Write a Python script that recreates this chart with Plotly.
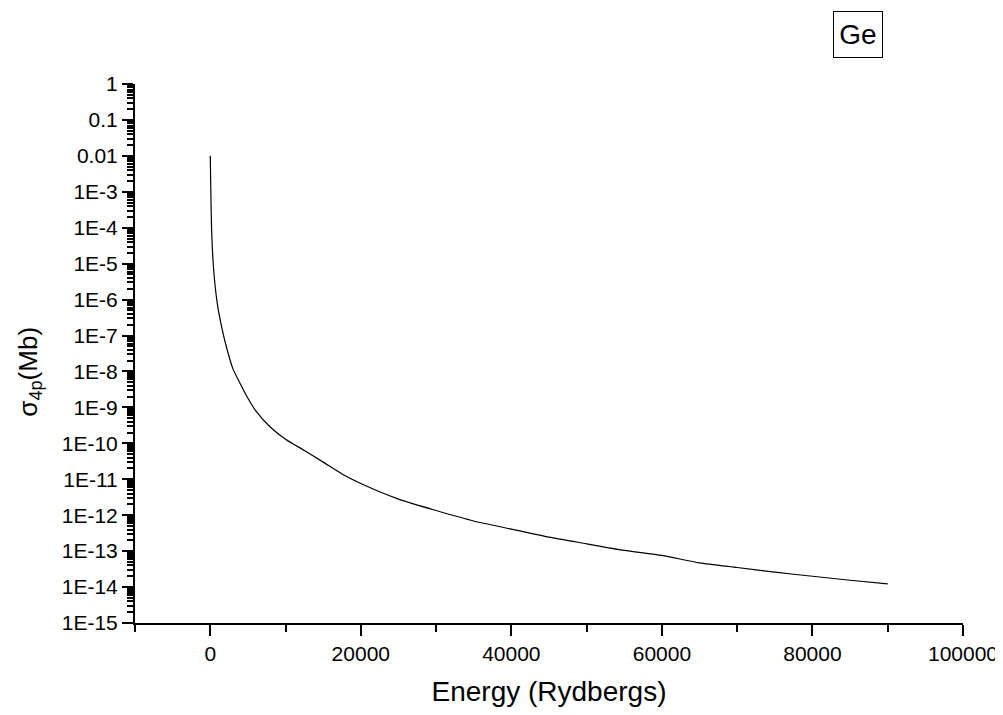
import plotly.graph_objects as go

# Data (Energy in Rydbergs, sigma_4p in Mb)
energy = [0, 200, 500, 1000, 1500, 2000, 3000, 4000, 5000, 6000, 8000, 10000,
          12500, 15000, 17500, 20000, 25000, 30000, 35000, 40000, 45000, 50000,
          55000, 60000, 65000, 70000, 75000, 80000, 85000, 90000]
sigma_4p = [1.0e-2, 6.3e-5, 5.0e-6, 6.3e-7, 1.8e-7, 6.3e-8, 1.2e-8, 4.5e-9,
            1.8e-9, 8.3e-10, 2.8e-10, 1.3e-10, 6.3e-11, 3.0e-11, 1.4e-11,
            7.6e-12, 2.8e-12, 1.35e-12, 6.9e-13, 4.1e-13, 2.45e-13, 1.6e-13,
            1.05e-13, 7.6e-14, 4.7e-14, 3.5e-14, 2.6e-14, 2.0e-14, 1.55e-14,
            1.23e-14]

x_tickvals = [0, 20000, 40000, 60000, 80000, 100000]
x_ticktext = ["0", "20000", "40000", "60000", "80000", "100000"]
x_minor = [-10000, 10000, 30000, 50000, 70000, 90000]

y_exponents = list(range(0, -16, -1))
y_ticktext = ["1", "0.1", "0.01"] + ["1E%d" % e for e in range(-3, -16, -1)]
y_tickvals = [10.0 ** e for e in y_exponents]
y_minor = [k * 10.0 ** e for e in range(-15, 0) for k in range(2, 10)]

FONT = "Liberation Sans, Arial, sans-serif"

fig = go.Figure()
fig.add_trace(go.Scatter(x=energy, y=sigma_4p, mode="lines",
                         line=dict(color="black", width=1.2, shape="spline",
                                   smoothing=0.6),
                         showlegend=False))

fig.update_layout(
    width=995, height=699,
    margin=dict(l=127, r=40, t=76, b=84, autoexpand=False),
    paper_bgcolor="white", plot_bgcolor="white",
    font=dict(family=FONT, color="black", size=21),
    xaxis=dict(
        range=[-10000, 100000], showline=True, linecolor="black", linewidth=2,
        showgrid=False, zeroline=False, ticks="outside", ticklen=11,
        tickwidth=2, tickcolor="black", tickmode="array", automargin=False,
        tickvals=x_tickvals, ticktext=x_ticktext,
        tickfont=dict(size=21, family=FONT),
        minor=dict(tickmode="array", tickvals=x_minor, ticks="outside",
                   ticklen=7, tickwidth=2, tickcolor="black", showgrid=False),
        title=dict(text="Energy (Rydbergs)", font=dict(size=28, family=FONT),
                   standoff=20),
    ),
    yaxis=dict(
        type="log", range=[-15, 0], showline=True, linecolor="black",
        linewidth=2, showgrid=False, zeroline=False, ticks="outside",
        ticklen=11, tickwidth=2, tickcolor="black", tickmode="array",
        automargin=False,
        tickvals=y_tickvals, ticktext=y_ticktext,
        tickfont=dict(size=21, family=FONT),
        minor=dict(tickmode="array", tickvals=y_minor, ticks="outside",
                   ticklen=6, tickwidth=1.5, tickcolor="black", showgrid=False),
    ),
    annotations=[
        dict(text="σ<sub>4p</sub>(Mb)", xref="paper", yref="paper",
             x=-0.127, y=0.466, xanchor="center", yanchor="middle",
             textangle=-90, showarrow=False, font=dict(size=26, family=FONT)),
        dict(text="Ge", xref="paper", yref="paper", x=0.873, y=1.091,
             xanchor="center", yanchor="middle", showarrow=False,
             font=dict(size=28, family=FONT), bordercolor="black",
             borderwidth=1, borderpad=3, width=42, height=39),
    ],
)

fig.write_html("out.html")
